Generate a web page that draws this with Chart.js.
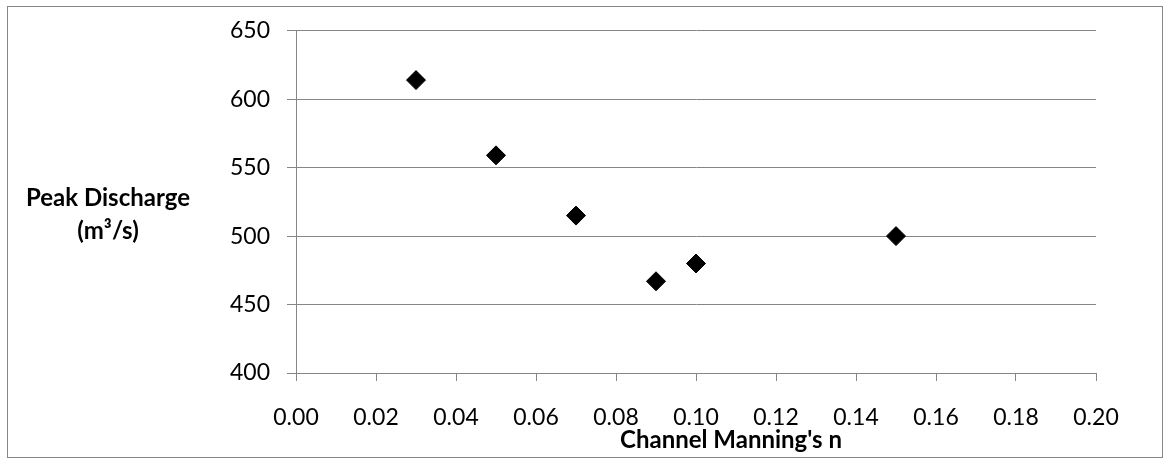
<!DOCTYPE html>
<html>
<head>
<meta charset="utf-8">
<script src="https://cdn.jsdelivr.net/npm/chart.js@4.4.1/dist/chart.umd.min.js"></script>
<style>
  html, body { margin: 0; padding: 0; background: #fff; }
  #wrap { width: 1168px; height: 460px; }
</style>
</head>
<body>
<div id="wrap"><canvas id="chart" width="1168" height="460"></canvas></div>
<script>
// --- data ---
const manningN  = [0.03, 0.05, 0.07, 0.09, 0.10, 0.15];
const peakQ     = [614, 559, 515, 467, 480, 500];
const xTicks    = [0, 0.02, 0.04, 0.06, 0.08, 0.10, 0.12, 0.14, 0.16, 0.18, 0.20];
const yTicks    = [400, 450, 500, 550, 600, 650];
const xTitle    = "Channel Manning's n";
const yTitle    = ["Peak Discharge", "(m³/s)"];

const GRID = "#868686";
const FONT = "Lato, 'Open Sans', sans-serif";

// frame + horizontal axis titles (Excel style)
const decor = {
  id: "decor",
  beforeDraw(chart) {
    const c = chart.ctx;
    c.save();
    c.fillStyle = "#fff";
    c.fillRect(0, 0, chart.width, chart.height);
    c.strokeStyle = GRID;
    c.lineWidth = 1;
    c.strokeRect(7.5, 6.5, 1155, 451);
    c.restore();
  },
  afterDraw(chart) {
    const c = chart.ctx;
    c.save();
    c.fillStyle = "#000";
    c.font = "bold 24px " + FONT;
    c.textAlign = "center";
    c.textBaseline = "alphabetic";
    c.fillText(xTitle, 731, 448);
    c.fillText(yTitle[0], 108, 206);
    c.fillText(yTitle[1], 108, 239);
    c.restore();
  }
};

const points = manningN.map((n, i) => ({ x: n, y: peakQ[i] }));

new Chart(document.getElementById("chart"), {
  type: "scatter",
  data: {
    datasets: [{
      data: points,
      pointStyle: "rectRot",
      pointRadius: 9.5,
      pointBackgroundColor: "#000",
      pointBorderColor: "#000",
      pointBorderWidth: 1
    }]
  },
  options: {
    responsive: false,
    animation: false,
    layout: { padding: { top: 27, right: 72, left: 0, bottom: 0 } },
    plugins: { legend: { display: false }, tooltip: { enabled: false } },
    scales: {
      x: {
        type: "linear",
        min: 0, max: 0.2,
        afterBuildTicks: s => { s.ticks = xTicks.map(v => ({ value: v })); },
        afterFit: s => { s.height = 87; },
        grid: { drawOnChartArea: false, drawTicks: true, tickLength: 8, color: GRID, lineWidth: 1 },
        border: { color: GRID, width: 1 },
        ticks: {
          color: "#000",
          font: { family: FONT, size: 23 },
          padding: 23,
          maxRotation: 0,
          callback: v => Number(v).toFixed(2)
        }
      },
      y: {
        type: "linear",
        min: 400, max: 650,
        afterBuildTicks: s => { s.ticks = yTicks.map(v => ({ value: v })); },
        afterFit: s => { s.width = 296; },
        grid: { drawTicks: true, tickLength: 9, color: GRID, lineWidth: 1 },
        border: { color: GRID, width: 1 },
        ticks: {
          color: "#000",
          font: { family: FONT, size: 23 },
          padding: 17
        }
      }
    }
  },
  plugins: [decor]
});
</script>
</body>
</html>
